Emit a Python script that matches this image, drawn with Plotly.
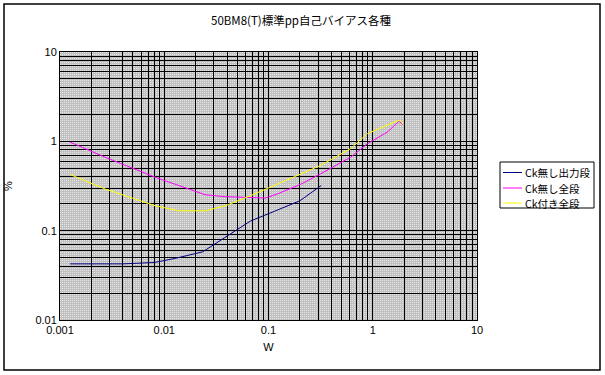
import base64
import plotly.graph_objects as go

title_text = "50BM8(T)標準pp自己バイアス各種"
series_names = ["Ck無し出力段", "Ck無し全段", "Ck付き全段"]
series_colors = ["#000080", "#ff00ff", "#ffff00"]

blue_x = [0.00125, 0.002, 0.004, 0.008, 0.0128, 0.0234, 0.039, 0.067, 0.117, 0.2, 0.32]
blue_y = [0.0425, 0.0425, 0.0425, 0.044, 0.049, 0.058, 0.086, 0.128, 0.167, 0.216, 0.32]

magenta_x = [0.00125, 0.0027, 0.0082, 0.0248, 0.0387, 0.0935, 0.121, 0.203, 0.316, 0.614, 0.89, 1.38, 1.79, 1.95]
magenta_y = [0.98, 0.665, 0.396, 0.252, 0.24, 0.232, 0.257, 0.33, 0.433, 0.665, 0.94, 1.27, 1.68, 1.54]

yellow_x = [0.00125, 0.0027, 0.0082, 0.0137, 0.0248, 0.0387, 0.067, 0.203, 0.316, 0.614, 0.89, 1.73, 1.85, 1.95]
yellow_y = [0.425, 0.293, 0.19, 0.167, 0.167, 0.19, 0.246, 0.433, 0.537, 0.83, 1.22, 1.70, 1.70, 1.55]

x_tickvals = [0.001, 0.01, 0.1, 1, 10]
x_ticktext = ["0.001", "0.01", "0.1", "1", "10"]
y_tickvals = [0.01, 0.1, 1, 10]
y_ticktext = ["0.01", "0.1", "1", "10"]

FONT = "Liberation Sans, Noto Sans CJK JP, sans-serif"
JFONT = "Noto Sans CJK JP"

# plot area in pixels
L, R, T, B = 60, 477, 52, 320
PW, PH = R - L, B - T


def px_x(p):
    return (p - L) / PW


def px_y(p):
    return (B - p) / PH


fig = go.Figure()
for xs, ys, name, col in zip([blue_x, magenta_x, yellow_x], [blue_y, magenta_y, yellow_y],
                             series_names, series_colors):
    fig.add_trace(go.Scatter(x=xs, y=ys, mode="lines", name=name,
                             line=dict(color=col, width=1), showlegend=False))

axis_common = dict(
    type="log", showgrid=True, gridcolor="black", gridwidth=1,
    showline=True, linecolor="black", linewidth=1, mirror=True,
    ticks="", zeroline=False, automargin=False,
    tickfont=dict(family=FONT, size=11, color="black"),
    minor=dict(showgrid=True, gridcolor="black", gridwidth=1, dtick="D1"),
)

fig.update_xaxes(range=[-3, 1], tickvals=x_tickvals, ticktext=x_ticktext,
                 title=dict(text="W", font=dict(family=FONT, size=11, color="black"), standoff=8),
                 **axis_common)
fig.update_yaxes(range=[-2, 1], tickvals=y_tickvals, ticktext=y_ticktext,
                 title=dict(text="%", font=dict(family=FONT, size=11, color="black"), standoff=20),
                 **axis_common)

# dotted background pattern
svg = (f'<svg xmlns="http://www.w3.org/2000/svg" width="{PW}" height="{PH}" '
       f'viewBox="0 0 {PW} {PH}" preserveAspectRatio="none" shape-rendering="crispEdges">'
       '<defs><pattern id="p" width="2" height="2" patternUnits="userSpaceOnUse">'
       '<rect width="2" height="2" fill="#c0c0c0"/><rect width="1" height="1" fill="#e6e6e6"/>'
       '</pattern></defs>'
       f'<rect width="{PW}" height="{PH}" fill="url(#p)"/></svg>')
src = "data:image/svg+xml;base64," + base64.b64encode(svg.encode()).decode()
fig.add_layout_image(source=src, xref="paper", yref="paper", x=0, y=1, sizex=1, sizey=1,
                     xanchor="left", yanchor="top", sizing="stretch", layer="below")

# outer chart frame
fig.add_shape(type="rect", xref="paper", yref="paper",
              x0=px_x(4), x1=px_x(600), y0=px_y(370), y1=px_y(4),
              line=dict(color="black", width=1.5), fillcolor="rgba(0,0,0,0)", layer="above")

# legend (box, samples, labels)
fig.add_shape(type="rect", xref="paper", yref="paper",
              x0=px_x(500), x1=px_x(594), y0=px_y(208), y1=px_y(162),
              line=dict(color="black", width=1), fillcolor="white", layer="above")
row_y = [172.5, 188, 203]
for name, col, ry in zip(series_names, series_colors, row_y):
    fig.add_shape(type="line", xref="paper", yref="paper",
                  x0=px_x(503), x1=px_x(522), y0=px_y(ry), y1=px_y(ry),
                  line=dict(color=col, width=1), layer="above")
    fig.add_annotation(text=name, xref="paper", yref="paper", x=px_x(523), y=px_y(ry),
                       xanchor="left", yanchor="middle", showarrow=False,
                       font=dict(family=JFONT, size=10.5, color="black"))

fig.update_layout(
    width=605, height=375,
    margin=dict(l=L, r=605 - R, t=T, b=375 - B),
    paper_bgcolor="white", plot_bgcolor="#c8c8c8",
    title=dict(text=title_text, x=301 / 605, xanchor="center", y=1 - 21 / 375, yanchor="middle",
               font=dict(family=JFONT, size=11.5, color="black")),
    showlegend=False,
)

fig.write_html("out.html", config={"displayModeBar": False})

# remove default page margin so the figure sits at the window's origin
with open("out.html", encoding="utf-8") as f:
    html = f.read()
html = html.replace("<head>", "<head><style>html,body{margin:0;padding:0;overflow:hidden}</style>", 1)
with open("out.html", "w", encoding="utf-8") as f:
    f.write(html)
